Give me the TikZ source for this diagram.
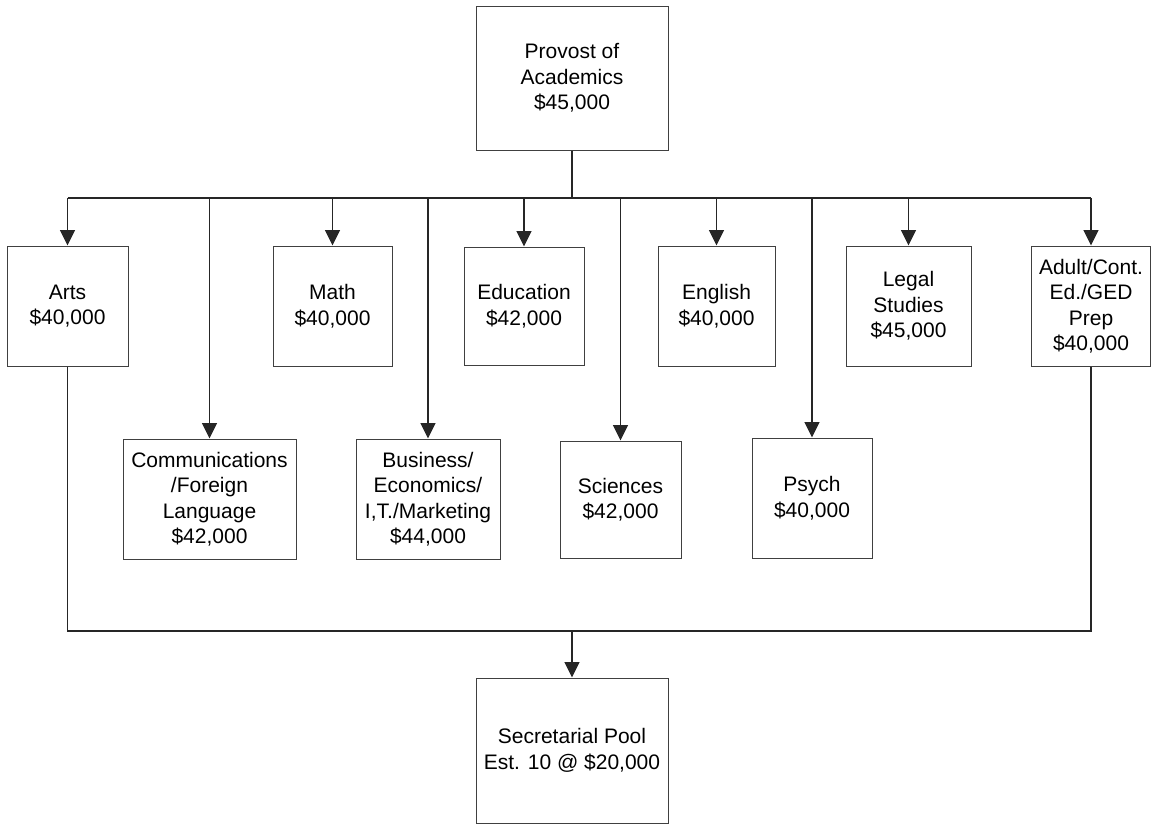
\documentclass[tikz,border=0pt]{standalone}
\usepackage{fontspec}
\setmainfont{Liberation Sans}
\usetikzlibrary{arrows.meta}
\tikzset{
  box/.style={draw=black!75, line width=1pt, inner sep=0pt, align=center,
    font=\fontsize{21}{25.5}\selectfont, text=black},
  conn/.style={draw=black!85, line width=1.2pt},
  arr/.style={conn, -{Triangle[length=15.5pt,width=15pt]}}
}
\begin{document}
\begin{tikzpicture}[x=1pt,y=-1pt]
\useasboundingbox (0,0) rectangle (1151,825);
% top
\node[box, minimum width=192pt, minimum height=144pt] (prov) at (572,78) {Provost of\\Academics\\\$45,000};
% upper row
\node[box, minimum width=121pt, minimum height=120pt] (arts) at (67.5,306) {Arts\\\$40,000};
\node[box, minimum width=119pt, minimum height=120pt] (math) at (332.5,306) {Math\\\$40,000};
\node[box, minimum width=120pt, minimum height=118pt] (educ) at (524,306) {Education\\\$42,000};
\node[box, minimum width=117pt, minimum height=120pt] (engl) at (716.5,306) {English\\\$40,000};
\node[box, minimum width=125pt, minimum height=120pt] (legal) at (908.5,306) {Legal\\Studies\\\$45,000};
\node[box, minimum width=119pt, minimum height=120pt] (adult) at (1091,306) {Adult/Cont.\\Ed./GED\\Prep\\\$40,000};
% lower row
\node[box, minimum width=173pt, minimum height=120pt] (comm) at (209.5,499) {Communications\\/Foreign\\Language\\\$42,000};
\node[box, minimum width=144pt, minimum height=120pt] (bus) at (428,499) {Business/\\Economics/\\I,T./Marketing\\\$44,000};
\node[box, minimum width=121pt, minimum height=117pt] (sci) at (620.5,499.5) {Sciences\\\$42,000};
\node[box, minimum width=120pt, minimum height=120pt] (psych) at (812,498) {Psych\\\$40,000};
% bottom
\node[box, minimum width=192pt, minimum height=145pt] (sec) at (572,750.5) {Secretarial Pool\\Est. 10 @ \$20,000};
% connectors
\coordinate (topbus) at (572,198);
\coordinate (botbus) at (572,631);
\draw[conn, line width=1.8pt] (prov.south) -- (topbus);
\draw[conn] (arts.north |- topbus) -- (adult.north |- topbus);
\foreach \n in {arts,math,educ,engl,legal,adult,comm,bus,sci,psych}
  \draw[arr] (\n.north |- topbus) -- (\n.north);
\draw[conn] (arts.south) -- (arts.south |- botbus) -- (adult.south |- botbus) -- (adult.south);
\draw[arr] (botbus) -- (sec.north);
\end{tikzpicture}
\end{document}
